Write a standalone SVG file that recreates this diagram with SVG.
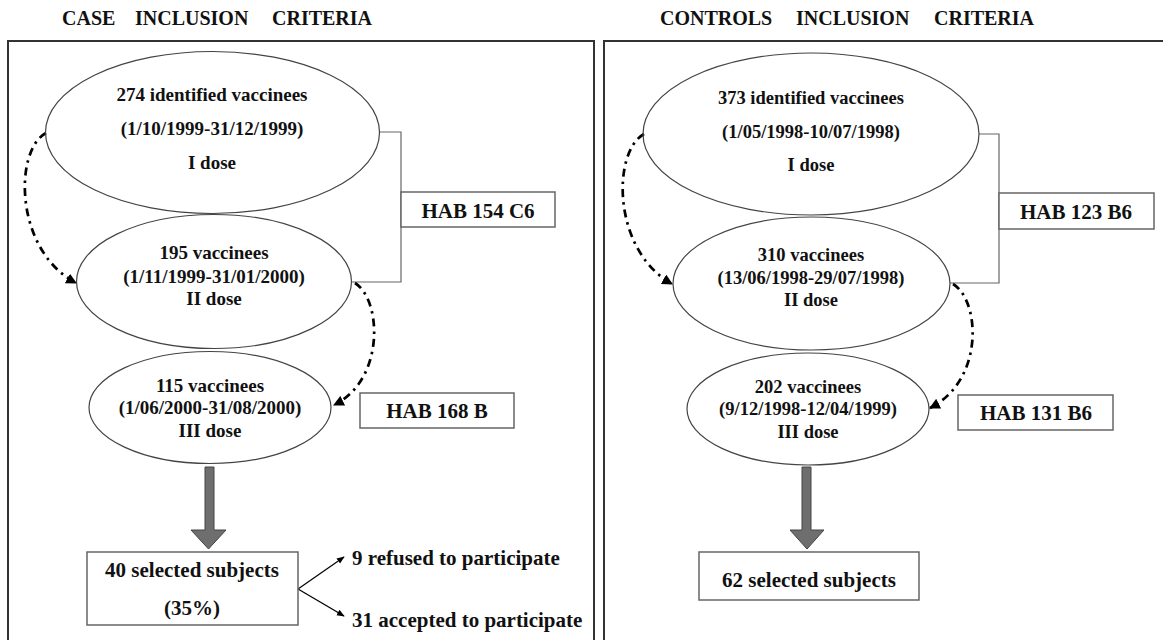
<svg xmlns="http://www.w3.org/2000/svg" width="1163" height="640" viewBox="0 0 1163 640">
<style>
text{font-family:"Liberation Serif","Times New Roman",serif;font-weight:bold;fill:#111}
.t{font-size:20px}
.e{font-size:19px;text-anchor:middle}
.er{font-size:18.5px;text-anchor:middle}
.h{font-size:21px;text-anchor:middle}
.s{font-size:21px}
.ell{fill:none;stroke:#444;stroke-width:1.2}
.box{fill:#fff;stroke:#666;stroke-width:1.5}
.panel{fill:none;stroke:#333;stroke-width:2}
.br{fill:none;stroke:#666;stroke-width:1.2}
.dd{fill:none;stroke:#000;stroke-width:2.7;stroke-dasharray:8 5 2.5 5;marker-end:url(#ah)}
.thin{fill:none;stroke:#000;stroke-width:1.3;marker-end:url(#sh)}
.big{fill:#6e6e6e;stroke:#444;stroke-width:1}
</style>
<defs>
<marker id="ah" viewBox="0 0 10 10" refX="9" refY="5" markerWidth="4" markerHeight="4" orient="auto" markerUnits="strokeWidth">
<path d="M0,0 L10,5 L0,10 z" fill="#000"/>
</marker>
<marker id="sh" viewBox="0 0 10 10" refX="9" refY="5" markerWidth="6" markerHeight="6" orient="auto" markerUnits="strokeWidth">
<path d="M0,1 L10,5 L0,9 z" fill="#000"/>
</marker>
</defs>

<g id="titles">
<text class="t" x="62" y="25">CASE</text>
<text class="t" x="135" y="25">INCLUSION</text>
<text class="t" x="272" y="25">CRITERIA</text>
<text class="t" x="660" y="25">CONTROLS</text>
<text class="t" x="796" y="25">INCLUSION</text>
<text class="t" x="934" y="25">CRITERIA</text>
</g>

<g id="panels">
<path class="panel" d="M8,641 V41 H594 V641"/>
<path class="panel" d="M604,641 V41 H1164"/>
</g>

<g id="connectors">
<path class="br" d="M379,132 H401 V282 H351"/>
<path class="br" d="M979,134 H999 V283 H950"/>
<path class="dd" d="M46,133 C14,150 14,250 76,283"/>
<path class="dd" d="M355,283 C382,300 385,380 334,405"/>
<path class="dd" d="M644,134 C612,152 612,250 672,284"/>
<path class="dd" d="M953,284 C980,300 985,380 930,408"/>
<polygon class="big" points="205,467 214,467 214,530 226,530 208.5,549 191,530 205,530"/>
<polygon class="big" points="802,467 811,467 811,530 824,530 807,549 790,530 802,530"/>
<path class="thin" d="M298,589 L344,557"/>
<path class="thin" d="M298,589 L344,616"/>
</g>

<g id="case-dose1">
<ellipse class="ell" cx="212.5" cy="132.5" rx="167" ry="81"/>
<text class="e" x="212" y="101">274 identified vaccinees</text>
<text class="e" x="212" y="135">(1/10/1999-31/12/1999)</text>
<text class="e" x="212" y="169">I dose</text>
</g>
<g id="case-dose2">
<ellipse class="ell" cx="214" cy="281.5" rx="137.5" ry="67"/>
<text class="e" x="214" y="259">195 vaccinees</text>
<text class="e" x="214" y="283">(1/11/1999-31/01/2000)</text>
<text class="e" x="214" y="305">II dose</text>
</g>
<g id="case-dose3">
<ellipse class="ell" cx="210" cy="407.5" rx="121" ry="56"/>
<text class="e" x="210" y="392">115 vaccinees</text>
<text class="e" x="210" y="414">(1/06/2000-31/08/2000)</text>
<text class="e" x="210" y="437">III dose</text>
</g>
<g id="hab154">
<rect class="box" x="401" y="192" width="154" height="35"/>
<text class="h" x="478" y="218">HAB 154 C6</text>
</g>
<g id="hab168">
<rect class="box" x="360" y="393" width="154" height="35"/>
<text class="h" x="437" y="418">HAB 168 B</text>
</g>
<g id="case-selected">
<rect class="box" x="87" y="552" width="211" height="73"/>
<text class="h" x="192" y="577">40 selected subjects</text>
<text class="h" x="192" y="615">(35%)</text>
</g>
<g id="refused">
<text class="s" x="352" y="565">9 refused to participate</text>
</g>
<g id="accepted">
<text class="s" x="352" y="627">31 accepted to participate</text>
</g>

<g id="ctrl-dose1">
<ellipse class="ell" cx="811" cy="134" rx="168" ry="81"/>
<text class="er" x="811" y="104">373 identified vaccinees</text>
<text class="er" x="811" y="138">(1/05/1998-10/07/1998)</text>
<text class="er" x="811" y="171">I dose</text>
</g>
<g id="ctrl-dose2">
<ellipse class="ell" cx="811.5" cy="283.5" rx="138.5" ry="66.5"/>
<text class="er" x="811" y="261">310 vaccinees</text>
<text class="er" x="811" y="284">(13/06/1998-29/07/1998)</text>
<text class="er" x="811" y="306">II dose</text>
</g>
<g id="ctrl-dose3">
<ellipse class="ell" cx="808" cy="409" rx="121" ry="56"/>
<text class="er" x="808" y="393">202 vaccinees</text>
<text class="er" x="808" y="415">(9/12/1998-12/04/1999)</text>
<text class="er" x="808" y="438">III dose</text>
</g>
<g id="hab123">
<rect class="box" x="999" y="193" width="155" height="36"/>
<text class="h" x="1076" y="219">HAB 123 B6</text>
</g>
<g id="hab131">
<rect class="box" x="958" y="395" width="155" height="35"/>
<text class="h" x="1036" y="420">HAB 131 B6</text>
</g>
<g id="ctrl-selected">
<rect class="box" x="699" y="552" width="220" height="48"/>
<text class="h" x="809" y="587">62 selected subjects</text>
</g>
</svg>
